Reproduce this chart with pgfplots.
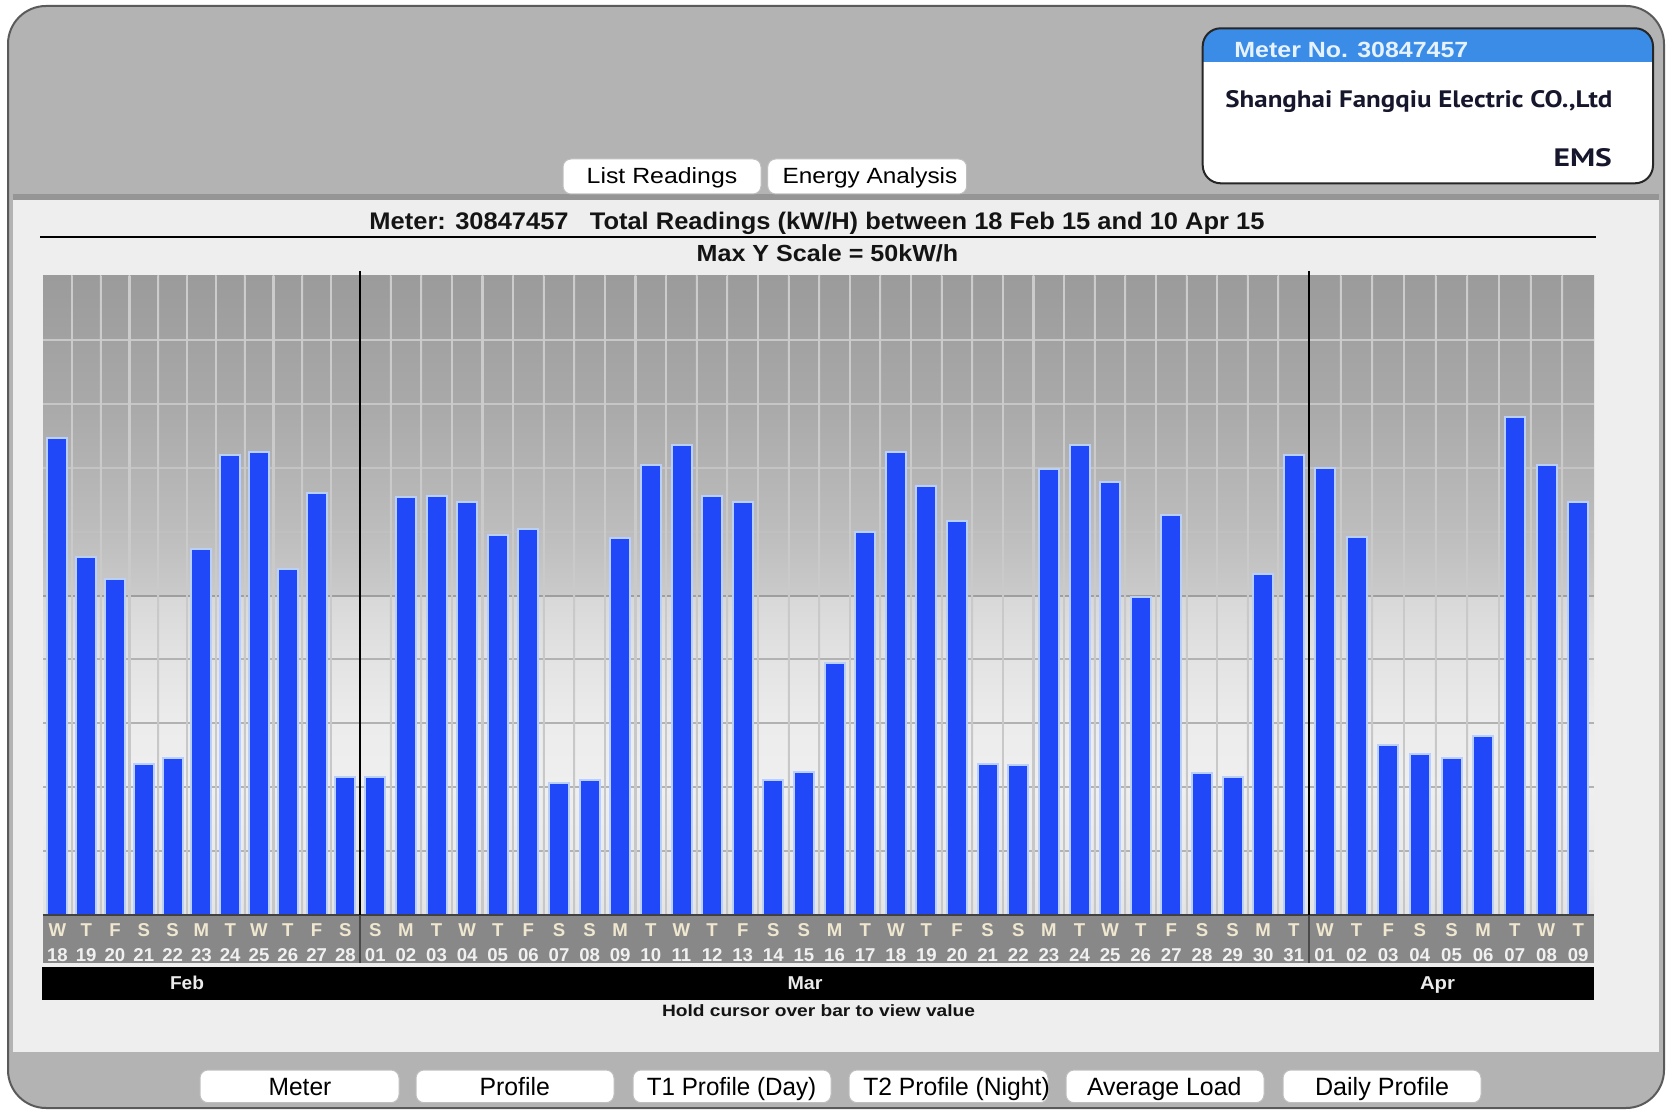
\documentclass[border=0pt]{standalone}
\usepackage{pgfplots}
\pgfplotsset{compat=1.18}
\usepackage{graphicx}
\usepackage{fontspec}
\setmainfont{Liberation Sans}
\newfontfamily\ptsans{PT Sans}

\definecolor{framebg}{HTML}{B3B3B3}
\definecolor{frameline}{HTML}{5A5A5A}
\definecolor{panelbg}{HTML}{EEEEEE}
\definecolor{panelshadow}{HTML}{959595}
\definecolor{sepgray}{HTML}{4A4A4A}
\definecolor{barblue}{RGB}{32,72,248}
\definecolor{barhalo}{RGB}{185,208,252}
\definecolor{hdrblue}{RGB}{58,140,230}
\definecolor{hdrtext}{HTML}{E6F2FF}
\definecolor{band}{HTML}{888888}
\definecolor{daylet}{HTML}{EFE7CF}
\definecolor{daynum}{HTML}{F0F0F0}
\definecolor{navy}{HTML}{16162C}
\definecolor{pb0}{HTML}{E4E4E4}
\definecolor{pb3}{HTML}{E9E9E9}
\definecolor{pb10}{HTML}{EFEFEF}
\definecolor{pb15}{HTML}{ECECEC}
\definecolor{pb20}{HTML}{E3E3E3}
\definecolor{pb249}{HTML}{D8D8D8}
\definecolor{pb251}{HTML}{CACACA}
\definecolor{pb30}{HTML}{BDBDBD}
\definecolor{pb40}{HTML}{A9A9A9}
\definecolor{pb50}{HTML}{9B9B9B}
\pgfdeclareverticalshading{plotbg}{100bp}{color(0bp)=(pb0); color(25bp)=(pb0); color(28bp)=(pb3); color(35bp)=(pb10); color(40bp)=(pb15); color(45bp)=(pb20); color(49.9bp)=(pb249); color(50.1bp)=(pb251); color(55bp)=(pb30); color(65bp)=(pb40); color(75bp)=(pb50); color(100bp)=(pb50)}

\pgfplotstableread{
x y
14.4 37.3
43.2 28.0
72.0 26.3
100.8 11.8
129.6 12.3
158.4 28.6
187.2 36.0
216.0 36.2
244.8 27.1
273.6 33.0
302.4 10.8
332.3 10.8
362.9 32.7
393.5 32.8
424.1 32.3
454.7 29.7
485.4 30.2
516.0 10.3
546.6 10.6
577.2 29.5
607.8 35.2
638.5 36.8
669.1 32.8
699.7 32.3
730.3 10.6
760.9 11.2
791.5 19.7
822.2 30.0
852.8 36.2
883.4 33.6
914.0 30.8
944.6 11.8
975.3 11.7
1005.9 34.9
1036.5 36.8
1067.1 33.9
1097.7 24.9
1128.3 31.3
1159.0 11.1
1189.6 10.8
1220.2 26.7
1250.8 36.0
1281.8 35.0
1313.5 29.6
1345.2 13.3
1376.8 12.6
1408.5 12.3
1440.2 14.0
1471.8 39.0
1503.5 35.2
1535.2 32.3
}\readings

\newcommand\dl[2]{\textcolor{daylet}{#1}\\#2}
\newcommand\txt[5]{\node[anchor=#1, inner sep=0pt] at (#2,#3) {\resizebox{#4pt}{\height}{#5}};}

\begin{document}
\begin{tikzpicture}
\begin{scope}[x=0.5pt,y=-0.5pt]
\useasboundingbox (0,0) rectangle (1671,1112);
\fill[white] (0,0) rectangle (1671,1112);
% outer frame
\draw[fill=framebg, draw=frameline, line width=1pt, rounded corners=19pt] (8,6) rectangle (1664,1108);
% panel
\fill[panelshadow] (13,194) rectangle (1659,200);
\fill[panelbg] (13,200) rectangle (1659,1052);
% top buttons
\draw[fill=white, draw=black!25, line width=0.5pt, rounded corners=4pt] (563,159) rectangle (761,194);
\draw[fill=white, draw=black!25, line width=0.5pt, rounded corners=4pt] (767.7,159) rectangle (966.7,194);
\txt{base}{662}{184}{75.3}{\fontsize{11}{13}\selectfont List Readings}
\txt{base}{870}{184}{87.35}{\fontsize{11}{13}\selectfont Energy Analysis}
% meter box
\begin{scope}
\clip[rounded corners=9pt] (1202.7,28.3) rectangle (1653,183.3);
\fill[white] (1202.7,28.3) rectangle (1653,183.3);
\fill[hdrblue] (1202.7,28.3) rectangle (1653,61.7);
\end{scope}
\draw[black!85, line width=1pt, rounded corners=9pt] (1202.7,28.3) rectangle (1653,183.3);
\txt{base west}{1234}{57.3}{117}{\fontsize{11}{13}\selectfont\bfseries\color{hdrtext}Meter No. 30847457}
\txt{base west}{1225}{107.3}{193.5}{\fontsize{11.9}{14}\selectfont\ptsans\bfseries\color{navy}Shanghai Fangqiu Electric CO.,Ltd}
\txt{base east}{1612.3}{166.7}{29.15}{\fontsize{12.6}{14}\selectfont\ptsans\bfseries\color{navy}EMS}
% titles
\txt{base}{817}{229.5}{447.5}{\fontsize{12}{14}\selectfont\bfseries\color{black!92}Meter: 30847457\ \ \ Total Readings (kW/H) between 18 Feb 15 and 10 Apr 15}
\draw[black, line width=1pt] (40,237.5) -- (1596,237.5);
\txt{base}{827.5}{261.7}{130.8}{\fontsize{11.65}{14}\selectfont\bfseries\color{black!92}Max Y Scale = 50kW/h}
% plot background
\shade[shading=plotbg] (43,276) rectangle (1594,915);
\foreach \v/\p in {45/21.6,40/22.4,35/23.1,30/24.7,25/38,20/30.2,15/30.2,10/30.2,5/30.2}
  \draw[black!\p, line width=1pt] (43,{915-12.78*\v}) -- (1594,{915-12.78*\v});
\foreach \k in {1,...,10}
  \shade[top color=black!20, bottom color=black!22] ({43+28.818*\k-0.8},276) rectangle ({43+28.818*\k+0.8},915);
\foreach \k in {1,...,30}
  \shade[top color=black!20, bottom color=black!22] ({360+30.613*\k-0.8},276) rectangle ({360+30.613*\k+0.8},915);
\foreach \k in {1,...,8}
  \shade[top color=black!20, bottom color=black!22] ({1309+31.667*\k-0.8},276) rectangle ({1309+31.667*\k+0.8},915);
% day band and month band
\fill[band] (43,915) rectangle (1594,963.3);
\fill[black] (42,966.7) rectangle (1594,1000);
\draw[sepgray, line width=0.6pt] (360,915) -- (360,963.3);
\draw[sepgray, line width=0.6pt] (1309,915) -- (1309,963.3);
\txt{base}{187}{989.3}{17}{\fontsize{9.3}{11}\selectfont\bfseries\color{black!8}Feb}
\txt{base}{805}{989.3}{17.5}{\fontsize{9.3}{11}\selectfont\bfseries\color{black!8}Mar}
\txt{base}{1437.5}{989.3}{17.5}{\fontsize{9.3}{11}\selectfont\bfseries\color{black!8}Apr}
\txt{base}{818.5}{1016.7}{156.5}{\fontsize{8.2}{10}\selectfont\bfseries\color{black!92}Hold cursor over bar to view value}
% bottom buttons
\foreach \a/\b in {200/399,416/614,633/831,849/1048,1066/1264,1283/1481}
  \draw[fill=white, draw=black!25, line width=0.5pt, rounded corners=4pt] (\a,1070) rectangle (\b,1102.7);
\txt{base}{300}{1095}{31.4}{\fontsize{12.5}{14}\selectfont Meter}
\txt{base}{514.75}{1095}{35.15}{\fontsize{12.5}{14}\selectfont Profile}
\txt{base}{731.6}{1095}{84.7}{\fontsize{12.5}{14}\selectfont T1 Profile (Day)}
\txt{base}{956.5}{1095}{93.25}{\fontsize{12.5}{14}\selectfont T2 Profile (Night)}
\txt{base}{1164.25}{1095}{77.25}{\fontsize{12.5}{14}\selectfont Average Load}
\txt{base}{1382}{1095}{67}{\fontsize{12.5}{14}\selectfont Daily Profile}
\end{scope}

\begin{axis}[
  at={(21.5pt,-457.5pt)}, anchor=south west,
  scale only axis, width=775.5pt, height=319.5pt,
  xmin=0, xmax=1551, ymin=0, ymax=50,
  axis line style={draw=none},
  ytick=\empty,
  xtick=data,
  xticklabels={\dl W{18},\dl T{19},\dl F{20},\dl S{21},\dl S{22},\dl M{23},\dl T{24},\dl W{25},\dl T{26},\dl F{27},\dl S{28},
    \dl S{01},\dl M{02},\dl T{03},\dl W{04},\dl T{05},\dl F{06},\dl S{07},\dl S{08},\dl M{09},\dl T{10},\dl W{11},\dl T{12},\dl F{13},\dl S{14},\dl S{15},\dl M{16},\dl T{17},\dl W{18},\dl T{19},\dl F{20},\dl S{21},\dl S{22},\dl M{23},\dl T{24},\dl W{25},\dl T{26},\dl F{27},\dl S{28},\dl S{29},\dl M{30},\dl T{31},
    \dl W{01},\dl T{02},\dl F{03},\dl S{04},\dl S{05},\dl M{06},\dl T{07},\dl W{08},\dl T{09}},
  major tick length=0pt,
  xticklabel style={font=\fontsize{9.3}{12.35}\selectfont\bfseries, text=daynum, align=center, anchor=north, inner sep=0pt, yshift=-4.15pt},
  ybar, bar width=20,
  clip=false,
]
\addplot[fill=barblue, draw=barhalo, line width=1pt] table[x=x, y=y] {\readings};
\end{axis}

\begin{scope}[x=0.5pt,y=-0.5pt]
\draw[black!75, line width=0.8pt] (43,915) -- (1594,915);
\draw[black, line width=1pt] (360,271) -- (360,915);
\draw[black, line width=1pt] (1309,271) -- (1309,915);
\end{scope}
\end{tikzpicture}
\end{document}
